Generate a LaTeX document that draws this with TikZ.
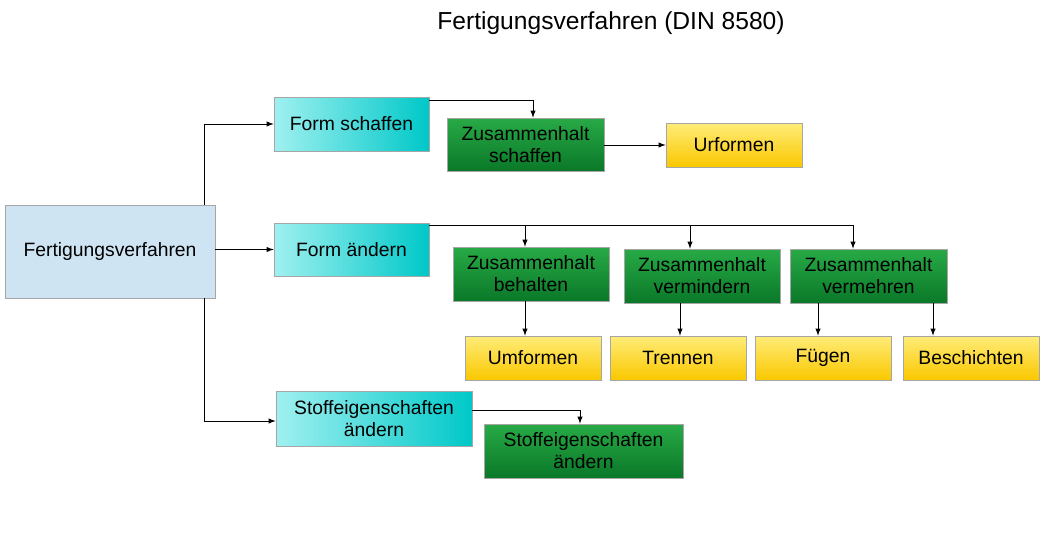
\documentclass[tikz,border=0pt]{standalone}
\usepackage{fontspec}
\setmainfont{Liberation Sans}
\usetikzlibrary{positioning}
\definecolor{rootblue}{RGB}{207,228,243}
\definecolor{cyanlight}{RGB}{160,240,240}
\definecolor{cyandark}{RGB}{0,200,200}
\definecolor{greenlight}{RGB}{40,170,70}
\definecolor{greendark}{RGB}{10,120,40}
\definecolor{yellowlight}{RGB}{255,236,120}
\definecolor{yellowdark}{RGB}{250,200,0}
\tikzset{
  box/.style={draw=gray!70, inner sep=0pt, align=center, font=\fontsize{11}{12.5}\selectfont},
  rootbox/.style={box, fill=rootblue},
  formbox/.style={box, left color=cyanlight, right color=cyandark},
  halbox/.style={box, top color=greenlight, bottom color=greendark},
  endbox/.style={box, top color=yellowlight, bottom color=yellowdark},
  link/.style={-latex, thin}
}
\begin{document}
\begin{tikzpicture}[x=0.02cm, y=-0.02cm]
  \useasboundingbox (0,0) rectangle (1044,535);
  % title
  \node (title) at (611,23) {\fontsize{14}{16}\selectfont Fertigungsverfahren (DIN 8580)};

  % main boxes
  \node[rootbox, minimum width=210*0.02cm, minimum height=93*0.02cm] (root) at (110,251.5) {Fertigungsverfahren};
  \node[formbox, minimum width=155*0.02cm, minimum height=54*0.02cm] (schaffen) at (351.5,124) {Form schaffen};
  \node[formbox, minimum width=155*0.02cm, minimum height=53*0.02cm] (aendern) at (351.5,249.5) {Form ändern};
  \node[formbox, minimum width=196*0.02cm, minimum height=55*0.02cm] (stoff) at (374,418.5) {Stoffeigenschaften\\ändern};

  % second level
  \node[halbox, minimum width=157*0.02cm, minimum height=53*0.02cm] (zhschaffen) at (525.5,144.5) {Zusammenhalt\\schaffen};
  \node[halbox, minimum width=156*0.02cm, minimum height=54*0.02cm] (zhbehalten) at (531,274) {Zusammenhalt\\behalten};
  \node[halbox, minimum width=156*0.02cm, minimum height=54*0.02cm] (zhvermindern) at (702,276) {Zusammenhalt\\vermindern};
  \node[halbox, minimum width=157*0.02cm, minimum height=54*0.02cm] (zhvermehren) at (868.5,276) {Zusammenhalt\\vermehren};
  \node[halbox, minimum width=199*0.02cm, minimum height=54*0.02cm] (stoffneu) at (583.5,451) {Stoffeigenschaften\\ändern};

  % end level
  \node[endbox, minimum width=136*0.02cm, minimum height=44*0.02cm] (urformen) at (734,145) {Urformen};
  \node[endbox, minimum width=136*0.02cm, minimum height=44*0.02cm] (umformen) at (533,358) {Umformen};
  \node[endbox, minimum width=136*0.02cm, minimum height=44*0.02cm] (trennen) at (678,358) {Trennen};
  \node[endbox, minimum width=136*0.02cm, minimum height=44*0.02cm] (fuegen) at (823,358) {Fügen};
  \node[endbox, minimum width=136*0.02cm, minimum height=44*0.02cm] (beschichten) at (971,358) {Beschichten};

  % connectors from root
  \draw[link] (root.north -| 204,0) |- (schaffen.west);
  \draw[link] (root.east |- aendern.west) -- (aendern.west);
  \draw[link] (root.south -| 204,0) |- (stoff.west |- 0,421);

  % form schaffen
  \draw[link] (schaffen.east |- 0,100) -| (zhschaffen.north -| 533,0);
  \draw[link] (zhschaffen.east |- urformen.west) -- (urformen.west);

  % form aendern
  \draw (aendern.east |- 0,225) -- (853,225);
  \draw[link] (525,225) -- (zhbehalten.north -| 525,0);
  \draw[link] (690,225) -- (zhvermindern.north -| 690,0);
  \draw[link] (853,225) -- (zhvermehren.north -| 853,0);
  \draw[link] (zhbehalten.south -| 525,0) -- (umformen.north -| 525,0);
  \draw[link] (zhvermindern.south -| 680,0) -- (trennen.north -| 680,0);
  \draw[link] (zhvermehren.south -| 818,0) -- (fuegen.north -| 818,0);
  \draw[link] (zhvermehren.south -| 933,0) -- (beschichten.north -| 933,0);

  % stoffeigenschaften
  \draw[link] (stoff.east |- 0,410) -| (stoffneu.north -| 580,0);
\end{tikzpicture}
\end{document}
